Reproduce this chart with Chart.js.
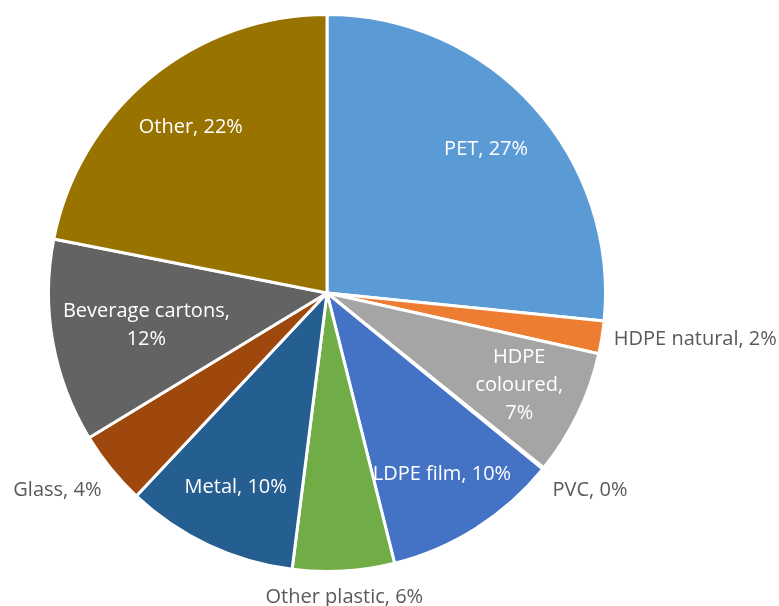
<!DOCTYPE html>
<html>
<head>
<meta charset="utf-8">
<script src="https://cdn.jsdelivr.net/npm/chart.js@4.4.1/dist/chart.umd.min.js"></script>
<style>
  body { margin: 0; background: #fff; }
</style>
</head>
<body>
<canvas id="pie" width="779" height="606"></canvas>
<script>
const categories = ['PET', 'HDPE natural', 'HDPE coloured', 'PVC', 'LDPE film', 'Other plastic', 'Metal', 'Glass', 'Beverage cartons', 'Other'];
const shares = [26.6, 1.9, 7.3, 0.1, 10.2, 5.9, 10.0, 4.3, 11.8, 21.9];
const colours = ['#5B9BD5', '#ED7D31', '#A5A5A5', '#FFC000', '#4472C4', '#70AD47', '#255E91', '#9E480E', '#636363', '#997300'];

// styling for the data labels
const insideMin = 7;      // slices smaller than this get their label outside
const wrapWidth = [null, null, 100, null, null, null, null, null, 190, null];
const labelFont = '20px "Open Sans"';

function wrapText(ctx, text, maxW) {
  if (!maxW) return [text];
  const words = text.split(' ');
  const lines = [];
  let cur = '';
  words.forEach(w => {
    const t = cur ? cur + ' ' + w : w;
    if (cur && ctx.measureText(t).width > maxW) {
      lines.push(cur);
      cur = w;
    } else {
      cur = t;
    }
  });
  if (cur) lines.push(cur);
  return lines;
}

const pieLabels = {
  id: 'pieLabels',
  afterDatasetsDraw(chart) {
    const ctx = chart.ctx;
    const data = chart.data.datasets[0].data;
    const total = data.reduce((a, b) => a + b, 0);
    ctx.save();
    ctx.font = labelFont;
    const lh = 28;
    chart.getDatasetMeta(0).data.forEach((arc, i) => {
      const p = arc.getProps(['x', 'y', 'startAngle', 'endAngle', 'outerRadius']);
      const mid = (p.startAngle + p.endAngle) / 2;
      const cos = Math.cos(mid), sin = Math.sin(mid);
      const pct = Math.round(data[i] / total * 100);
      const text = categories[i] + ', ' + pct + '%';
      const lines = wrapText(ctx, text, wrapWidth[i]);
      const h = lines.length * lh;
      const w = Math.max(...lines.map(l => ctx.measureText(l).width));
      if (data[i] >= insideMin) {
        // push the label toward the centre until its box fits in the pie
        let r = p.outerRadius * 0.77;
        const limit = p.outerRadius - 8;
        const fits = rr => {
          const cx = rr * cos, cy = rr * sin;
          return [[-1, -1], [1, -1], [-1, 1], [1, 1]].every(([sx, sy]) =>
            Math.hypot(cx + sx * w / 2, cy + sy * (h - 8) / 2) <= limit);
        };
        while (r > 0 && !fits(r)) r -= 1;
        const cx = p.x + r * cos, cy = p.y + r * sin;
        ctx.fillStyle = '#ffffff';
        ctx.textAlign = 'center';
        ctx.textBaseline = 'middle';
        lines.forEach((l, k) => ctx.fillText(l, cx, cy - h / 2 + lh / 2 + k * lh));
      } else {
        const r = p.outerRadius + 12;
        const ax = p.x + r * cos, ay = p.y + r * sin;
        ctx.fillStyle = '#595959';
        ctx.textAlign = cos > 0.25 ? 'left' : (cos < -0.25 ? 'right' : 'center');
        let top;
        if (sin > 0.25) top = ay;
        else if (sin < -0.25) top = ay - h;
        else top = ay - h / 2;
        ctx.textBaseline = 'middle';
        lines.forEach((l, k) => ctx.fillText(l, ax, top + lh / 2 + k * lh));
      }
    });
    ctx.restore();
  }
};

new Chart(document.getElementById('pie'), {
  type: 'pie',
  data: {
    labels: categories,
    datasets: [{
      data: shares,
      backgroundColor: colours,
      borderColor: '#ffffff',
      borderWidth: 3
    }]
  },
  options: {
    responsive: false,
    animation: false,
    layout: { padding: { left: 47, right: 172, top: 13, bottom: 33 } },
    plugins: {
      legend: { display: false },
      tooltip: { enabled: false }
    }
  },
  plugins: [pieLabels]
});
</script>
</body>
</html>
